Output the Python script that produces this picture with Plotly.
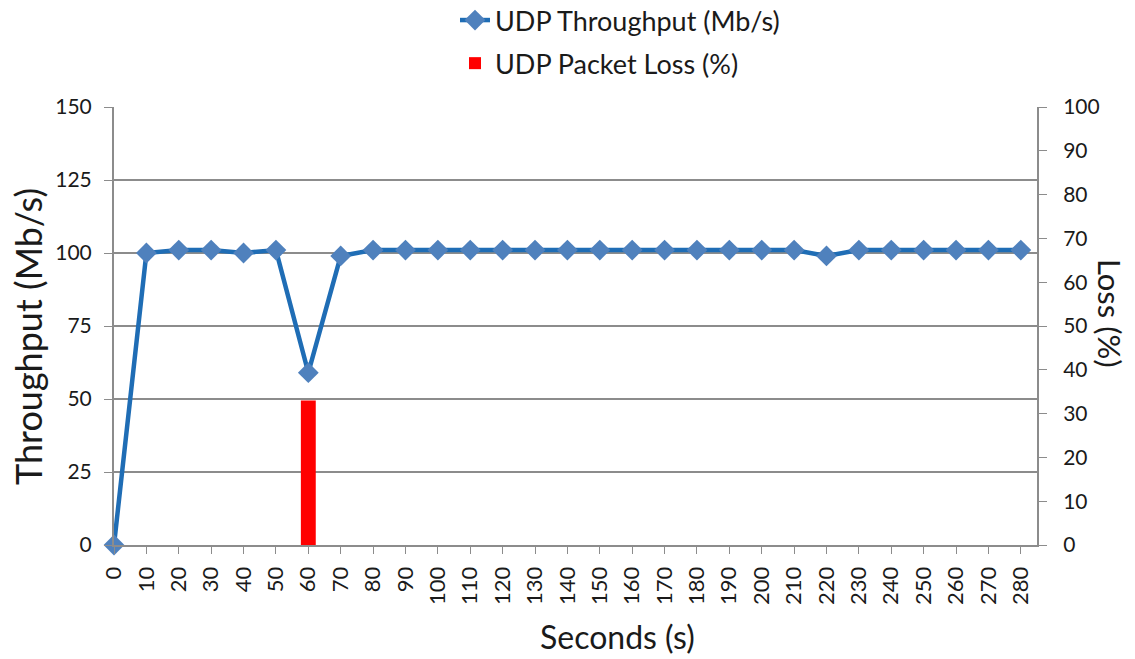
import plotly.graph_objects as go

seconds = [str(s) for s in range(0, 290, 10)]
throughput = [0, 100, 101, 101, 100, 101, 59, 99, 101, 101, 101, 101, 101, 101, 101,
              101, 101, 101, 101, 101, 101, 101, 99, 101, 101, 101, 101, 101, 101]
loss_seconds = ["60"]
loss_values = [33]

xpos = list(range(len(seconds)))
loss_pos = [seconds.index(s) for s in loss_seconds]

FONT = "Lato"
GRID = "#8c8c8c"
L, R, T, B = 114, 98, 107, 114
W, H = 1135, 659
PW, PH = W - L - R, H - T - B

fig = go.Figure()
fig.add_trace(go.Scatter(
    x=xpos, y=throughput, name="UDP Throughput (Mb/s)", mode="lines+markers",
    line=dict(color="#1f6db5", width=4.5),
    marker=dict(symbol="diamond", size=16, color="#4f81bd"),
    cliponaxis=False, yaxis="y", legendgroup="a"))
fig.add_trace(go.Bar(
    x=loss_pos, y=loss_values, name="UDP Packet Loss (%)",
    marker=dict(color="#ff0000", line=dict(width=0)), width=0.46, yaxis="y2",
    legendgroup="b"))

fig.update_layout(
    width=W, height=H,
    margin=dict(l=L, r=R, t=T, b=B, autoexpand=False),
    paper_bgcolor="white", plot_bgcolor="white",
    font=dict(family=FONT, color="#1a1a1a", size=21),
    showlegend=True,
    legend=dict(x=(455 - L) / PW, xanchor="left", y=(PH + T + 4) / PH, yanchor="top",
                yref="paper", orientation="v", font=dict(size=27), itemwidth=30,
                bgcolor="rgba(0,0,0,0)", tracegroupgap=5),
    xaxis=dict(range=[0, 28.5], tickmode="array", tickvals=xpos, ticktext=seconds,
               tickangle=-90, ticks="outside", ticklen=7, tickcolor=GRID,
               showline=True, linecolor=GRID, linewidth=2, showgrid=False, zeroline=False,
               tickfont=dict(size=22), automargin=False, ticklabelstandoff=4),
    yaxis=dict(range=[0, 150], tickvals=[0, 25, 50, 75, 100, 125, 150],
               showgrid=True, gridcolor=GRID, gridwidth=2, zeroline=False,
               showline=True, linecolor=GRID, linewidth=2,
               ticks="outside", ticklen=8, tickcolor=GRID, automargin=False,
               tickfont=dict(size=21), ticklabelstandoff=8),
    yaxis2=dict(range=[0, 100], tickvals=list(range(0, 101, 10)), overlaying="y", side="right",
                showgrid=False, zeroline=False, showline=True, linecolor=GRID, linewidth=2,
                ticks="outside", ticklen=8, tickcolor=GRID, tickfont=dict(size=21),
                automargin=False, ticklabelstandoff=12),
    annotations=[
        dict(text="Throughput (Mb/s)", textangle=-90, xref="paper", yref="paper",
             x=0, xshift=28 - L, y=(545 - 337) / PH, xanchor="center", yanchor="middle",
             showarrow=False, font=dict(size=36)),
        dict(text="Loss (%)", textangle=90, xref="paper", yref="paper",
             x=1, xshift=1110 - (L + PW), y=(545 - 313) / PH, xanchor="center",
             yanchor="middle", showarrow=False, font=dict(size=31)),
        dict(text="Seconds (s)", xref="paper", yref="paper",
             x=(617 - L) / PW, y=0, yshift=-(636 - 545), xanchor="center", yanchor="middle",
             showarrow=False, font=dict(size=32)),
    ],
)

fig.write_html("out.html", config={"displayModeBar": False},
               post_script="document.body.style.margin='0px';")
